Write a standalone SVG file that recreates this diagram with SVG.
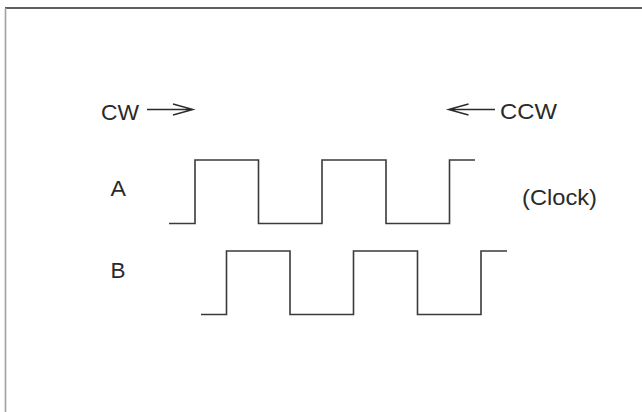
<svg xmlns="http://www.w3.org/2000/svg" width="642" height="412" viewBox="0 0 642 412">
<style>
.t{font-family:"Liberation Sans",Arial,sans-serif;font-size:22px;fill:#2a2a2a}
.w{fill:none;stroke:#3a3a3a;stroke-width:1.6}
.a{fill:none;stroke:#2a2a2a;stroke-width:1.4}
</style>
<rect width="642" height="412" fill="#fff"/>
<line x1="5" y1="8" x2="642" y2="8" stroke="#2a2a2a" stroke-width="1.6"/>
<line x1="5.5" y1="8" x2="5.5" y2="412" stroke="#a0a0a0" stroke-width="1.6"/>
<g id="cw"><text class="t" x="101" y="119.5" textLength="38" lengthAdjust="spacingAndGlyphs">CW</text></g>
<g id="ccw"><text class="t" x="500" y="119" textLength="57" lengthAdjust="spacingAndGlyphs">CCW</text></g>
<g id="labelA"><text class="t" x="110.5" y="196" textLength="15.5" lengthAdjust="spacingAndGlyphs">A</text></g>
<g id="labelB"><text class="t" x="110.5" y="278" textLength="15" lengthAdjust="spacingAndGlyphs">B</text></g>
<g id="clock"><text class="t" x="522" y="204.5" textLength="75" lengthAdjust="spacingAndGlyphs">(Clock)</text></g>
<g id="connectors">
<path class="a" d="M147,109.5 H193 M173,104 L193,109.5 L173,115"/>
<path class="a" d="M495,109.5 H448.5 M468.5,104 L448.5,109.5 L468.5,115"/>
</g>
<g id="waveA"><path class="w" d="M169,223.5 H195 V160 H258.5 V223.5 H322 V160 H386 V223.5 H449.5 V160 H475"/></g>
<g id="waveB"><path class="w" d="M201,314.5 H226.5 V251 H290 V314.5 H353.5 V251 H417.5 V314.5 H481 V251 H507"/></g>
</svg>
